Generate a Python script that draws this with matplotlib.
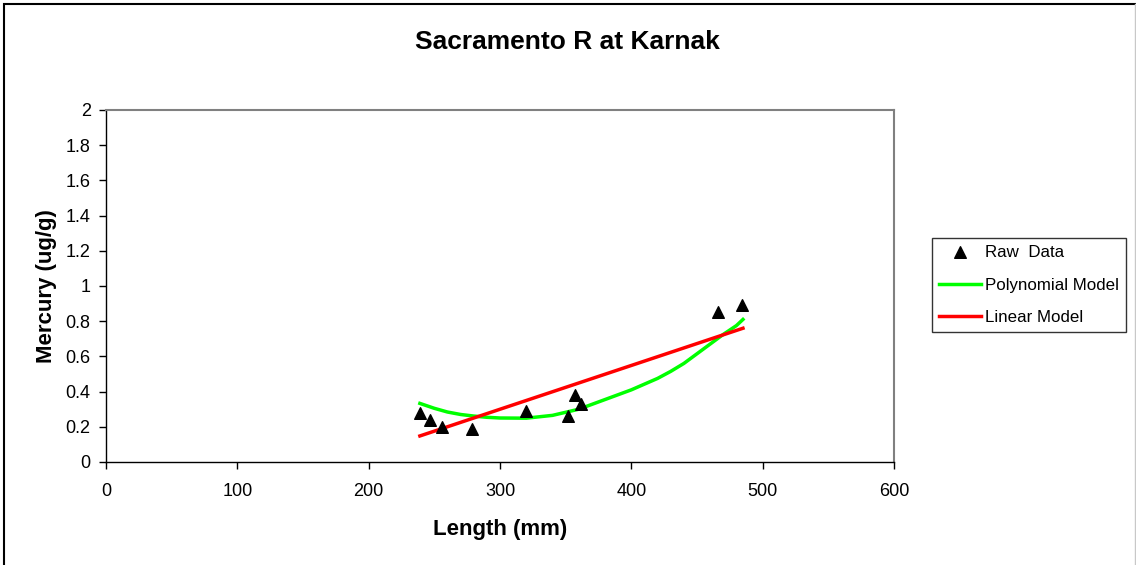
import matplotlib
matplotlib.use("Agg")
import matplotlib.pyplot as plt
from matplotlib.lines import Line2D
from matplotlib.patches import Rectangle

plt.rcParams['font.family'] = ['Liberation Sans', 'DejaVu Sans']

# Raw data
length_mm = [239, 247, 256, 279, 320, 352, 357, 362, 466, 484]
mercury = [0.28, 0.24, 0.20, 0.19, 0.29, 0.26, 0.38, 0.33, 0.85, 0.89]

# Polynomial model
poly_x = [239, 250, 260, 270, 280, 290, 300, 320, 340, 360, 380, 400, 420, 430, 440, 450, 460, 470, 480, 485]
poly_y = [0.333, 0.305, 0.284, 0.270, 0.261, 0.254, 0.250, 0.249, 0.265, 0.300, 0.355, 0.410, 0.475,
          0.515, 0.560, 0.615, 0.670, 0.725, 0.775, 0.810]

# Linear model endpoints
lin_x = [239, 485]
lin_y = [0.148, 0.760]

x_ticks = [0, 100, 200, 300, 400, 500, 600]
y_ticks = [0, 0.2, 0.4, 0.6, 0.8, 1.0, 1.2, 1.4, 1.6, 1.8, 2.0]
y_tick_labels = ['0', '0.2', '0.4', '0.6', '0.8', '1', '1.2', '1.4', '1.6', '1.8', '2']

W, H = 1136, 565
fig = plt.figure(figsize=(W / 100, H / 100), dpi=100)
fig.patch.set_facecolor('white')

# outer chart border
fig.add_artist(Rectangle((4 / W, -0.1), 1.2, 1 - 4 / H + 0.1, transform=fig.transFigure,
                         fill=False, edgecolor='black', linewidth=1.5))
fig.add_artist(Line2D([1134.5 / W, 1134.5 / W], [0, 1 - 4 / H], transform=fig.transFigure,
                      color='#c8c8c8', linewidth=1))

ax = fig.add_axes([106 / W, 1 - 462 / H, (894 - 106) / W, (462 - 110) / H])
ax.set_xlim(0, 600)
ax.set_ylim(0, 2)

ax.plot(poly_x, poly_y, color='#00ff00', linewidth=2.5, label='Polynomial Model', zorder=2)
ax.plot(lin_x, lin_y, color='#ff0000', linewidth=2.5, label='Linear Model', zorder=3)
ax.scatter(length_mm, mercury, marker='^', s=70, color='black', label='Raw  Data', zorder=4)

ax.set_xticks(x_ticks)
ax.set_xticklabels([str(t) for t in x_ticks])
ax.set_yticks(y_ticks)
ax.set_yticklabels(y_tick_labels)
ax.tick_params(axis='both', direction='out', length=5, width=1, labelsize=13, color='black')
ax.tick_params(axis='x', pad=10)
ax.tick_params(axis='y', pad=6)

for side in ['top', 'right']:
    ax.spines[side].set_color('#808080')
    ax.spines[side].set_linewidth(1.5)
for side in ['left', 'bottom']:
    ax.spines[side].set_color('black')
    ax.spines[side].set_linewidth(1)

ax.set_xlabel('Length (mm)', fontsize=16, fontweight='bold', labelpad=14)
ax.set_ylabel('Mercury (ug/g)', fontsize=16, fontweight='bold', labelpad=6)

fig.text(567 / W, 1 - 42 / H, 'Sacramento R at Karnak', ha='center', va='center',
         fontsize=19, fontweight='bold')

handles, labels = ax.get_legend_handles_labels()
order = [2, 0, 1]
leg = fig.legend([handles[i] for i in order], [labels[i] for i in order],
                 loc='upper left', bbox_to_anchor=(932 / W, 1 - 238 / H),
                 frameon=True, fancybox=False, fontsize=12.2, handlelength=2.5,
                 handletextpad=0.25, borderpad=0.4, labelspacing=1.05, borderaxespad=0)
leg.get_frame().set_edgecolor('black')
leg.get_frame().set_linewidth(1)

fig.savefig('out.png', dpi=100, facecolor='white')
